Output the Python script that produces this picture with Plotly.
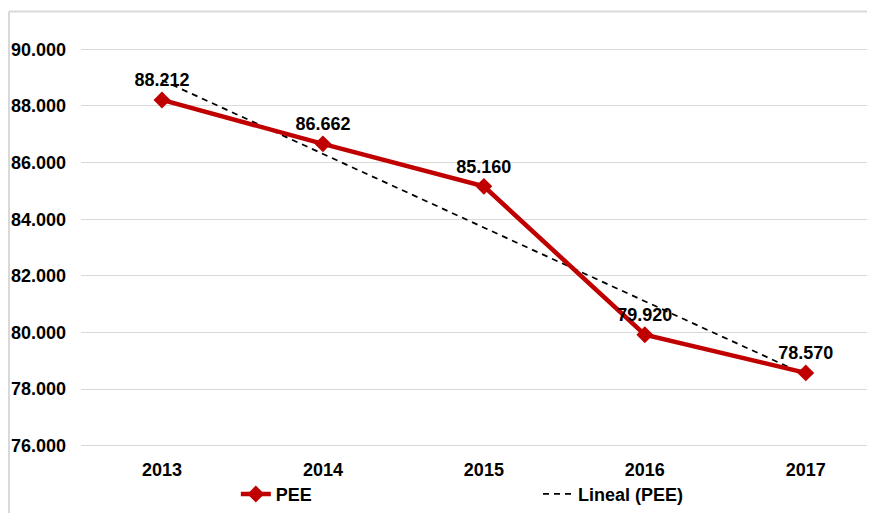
import numpy as np
import plotly.graph_objects as go

years = ["2013", "2014", "2015", "2016", "2017"]
pee = [88212, 86662, 85160, 79920, 78570]

# linear trend of the series, like Excel's "Lineal" trendline
idx = np.arange(len(pee))
slope, icpt = np.polyfit(idx, pee, 1)
trend = slope * idx + icpt

font_bold = dict(family="Liberation Sans, Arial", size=18, color="#000000", weight="bold")

fig = go.Figure()
fig.add_trace(go.Scatter(
    x=years, y=trend, mode="lines", name="Lineal (PEE)",
    line=dict(color="#000000", width=1.75, dash="6px,5px"),
    hoverinfo="skip", legend="legend2"))
fig.add_trace(go.Scatter(
    x=years, y=pee, mode="lines+markers+text", name="PEE",
    line=dict(color="#C00000", width=4.5),
    marker=dict(symbol="diamond", size=13, color="#C00000"),
    texttemplate="%{y:,d}", textposition="top center",
    textfont=font_bold, legend="legend"))

# light grey chart frame (left and top edges only are visible)
frame = dict(color="#d9d9d9", width=2)
fig.add_shape(type="line", xref="paper", yref="paper",
              x0=-0.0907, x1=-0.0907, y0=-0.5, y1=1.063, line=frame, layer="below")
fig.add_shape(type="line", xref="paper", yref="paper",
              x0=-0.0907, x1=1.2, y0=1.063, y1=1.063, line=frame, layer="below")

fig.update_layout(
    width=867, height=505,
    margin=dict(l=73, r=0, t=29.6, b=53.6),
    plot_bgcolor="#ffffff", paper_bgcolor="#ffffff",
    separators=",.",
    font=font_bold,
    showlegend=True,
    legend=dict(orientation="h", x=0.195, y=-0.089, xanchor="left", yanchor="middle",
                font=font_bold, bgcolor="rgba(0,0,0,0)"),
    legend2=dict(orientation="h", x=0.5756, y=-0.089, xanchor="left", yanchor="middle",
                 font=font_bold, bgcolor="rgba(0,0,0,0)"),
)
fig.update_xaxes(type="category", range=[-0.503, 4.43], showgrid=False, zeroline=False,
                 showline=False, tickfont=font_bold)
fig.update_yaxes(range=[75600, 90400], tick0=76000, dtick=2000, tickformat=",d",
                 showgrid=True, gridcolor="#d9d9d9", gridwidth=1, zeroline=False,
                 showline=False, tickfont=font_bold, ticklabelstandoff=14)

fig.write_html("out.html")
